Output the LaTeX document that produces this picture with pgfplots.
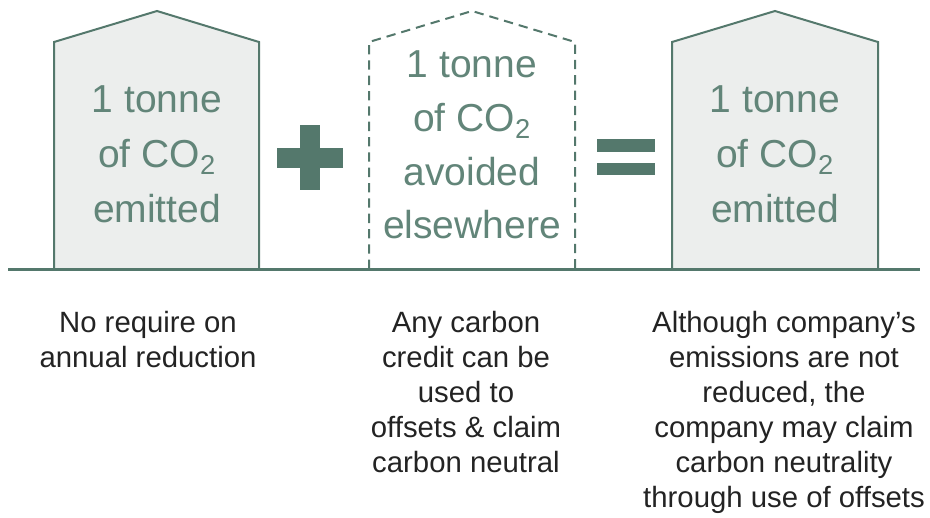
\documentclass[border=0pt]{standalone}
\usepackage{pgfplots}
\pgfplotsset{compat=1.18}
\usepackage{fontspec}
\setmainfont{Liberation Sans}
\definecolor{hline}{RGB}{84,120,108}
\definecolor{htext}{RGB}{98,133,121}
\definecolor{hfill}{RGB}{236,238,237}
\definecolor{btext}{RGB}{35,35,35}
\begin{document}
\begin{tikzpicture}
\begin{axis}[width=697.5pt, height=387.75pt, scale only axis,
  xmin=0, xmax=930, ymin=0, ymax=517, y dir=reverse,
  axis lines=none, clip=false]
\addplot[draw=none] coordinates {(0,0) (930,517)};
% houses
\addplot[fill=hfill, draw=hline, line width=1.5pt, line join=miter] coordinates {(54,269) (54,42) (157,11) (259,42) (259,269)};
\addplot[fill=hfill, draw=hline, line width=1.5pt, line join=miter] coordinates {(672,269) (672,42) (775,11) (878,42) (878,269)};
\addplot[draw=hline, line width=1.5pt, dash pattern=on 7pt off 4.5pt] coordinates {(369,269) (369,42) (472,11) (575,42) (575,269)};
% ground
\addplot[draw=hline, line width=2.25pt] coordinates {(8,269) (920,269)};
% plus
\addplot[fill=hline, draw=none] coordinates {(300,125) (320,125) (320,190) (300,190)} -- cycle;
\addplot[fill=hline, draw=none] coordinates {(277,148) (343,148) (343,168) (277,168)} -- cycle;
% equals
\addplot[fill=hline, draw=none] coordinates {(597,139) (655,139) (655,152) (597,152)} -- cycle;
\addplot[fill=hline, draw=none] coordinates {(597,163) (655,163) (655,175) (597,175)} -- cycle;
% house text
\begin{scope}[every node/.style={anchor=base, text=htext, font=\fontsize{29.25}{35}\selectfont}]
\node at (axis cs:157,112) {1 tonne};
\node at (axis cs:157,167) {of CO\textsubscript{2}};
\node at (axis cs:157,222) {emitted};
\node at (axis cs:472,77) {1 tonne};
\node at (axis cs:472,131) {of CO\textsubscript{2}};
\node at (axis cs:472,185) {avoided};
\node at (axis cs:472,238) {elsewhere};
\node at (axis cs:775,112) {1 tonne};
\node at (axis cs:775,167) {of CO\textsubscript{2}};
\node at (axis cs:775,222) {emitted};
\end{scope}
% captions
\begin{scope}[every node/.style={anchor=base, text=btext, font=\fontsize{22}{26}\selectfont}]
\node at (axis cs:148,332) {No require on};
\node at (axis cs:148,367) {annual reduction};
\node at (axis cs:466,332) {Any carbon};
\node at (axis cs:466,367) {credit can be};
\node at (axis cs:466,402) {used to};
\node at (axis cs:466,437) {offsets \& claim};
\node at (axis cs:466,472) {carbon neutral};
\node at (axis cs:784,332) {Although company’s};
\node at (axis cs:784,367) {emissions are not};
\node at (axis cs:784,402) {reduced, the};
\node at (axis cs:784,437) {company may claim};
\node at (axis cs:784,472) {carbon neutrality};
\node at (axis cs:784,507) {through use of offsets};
\end{scope}
\end{axis}
\end{tikzpicture}
\end{document}
